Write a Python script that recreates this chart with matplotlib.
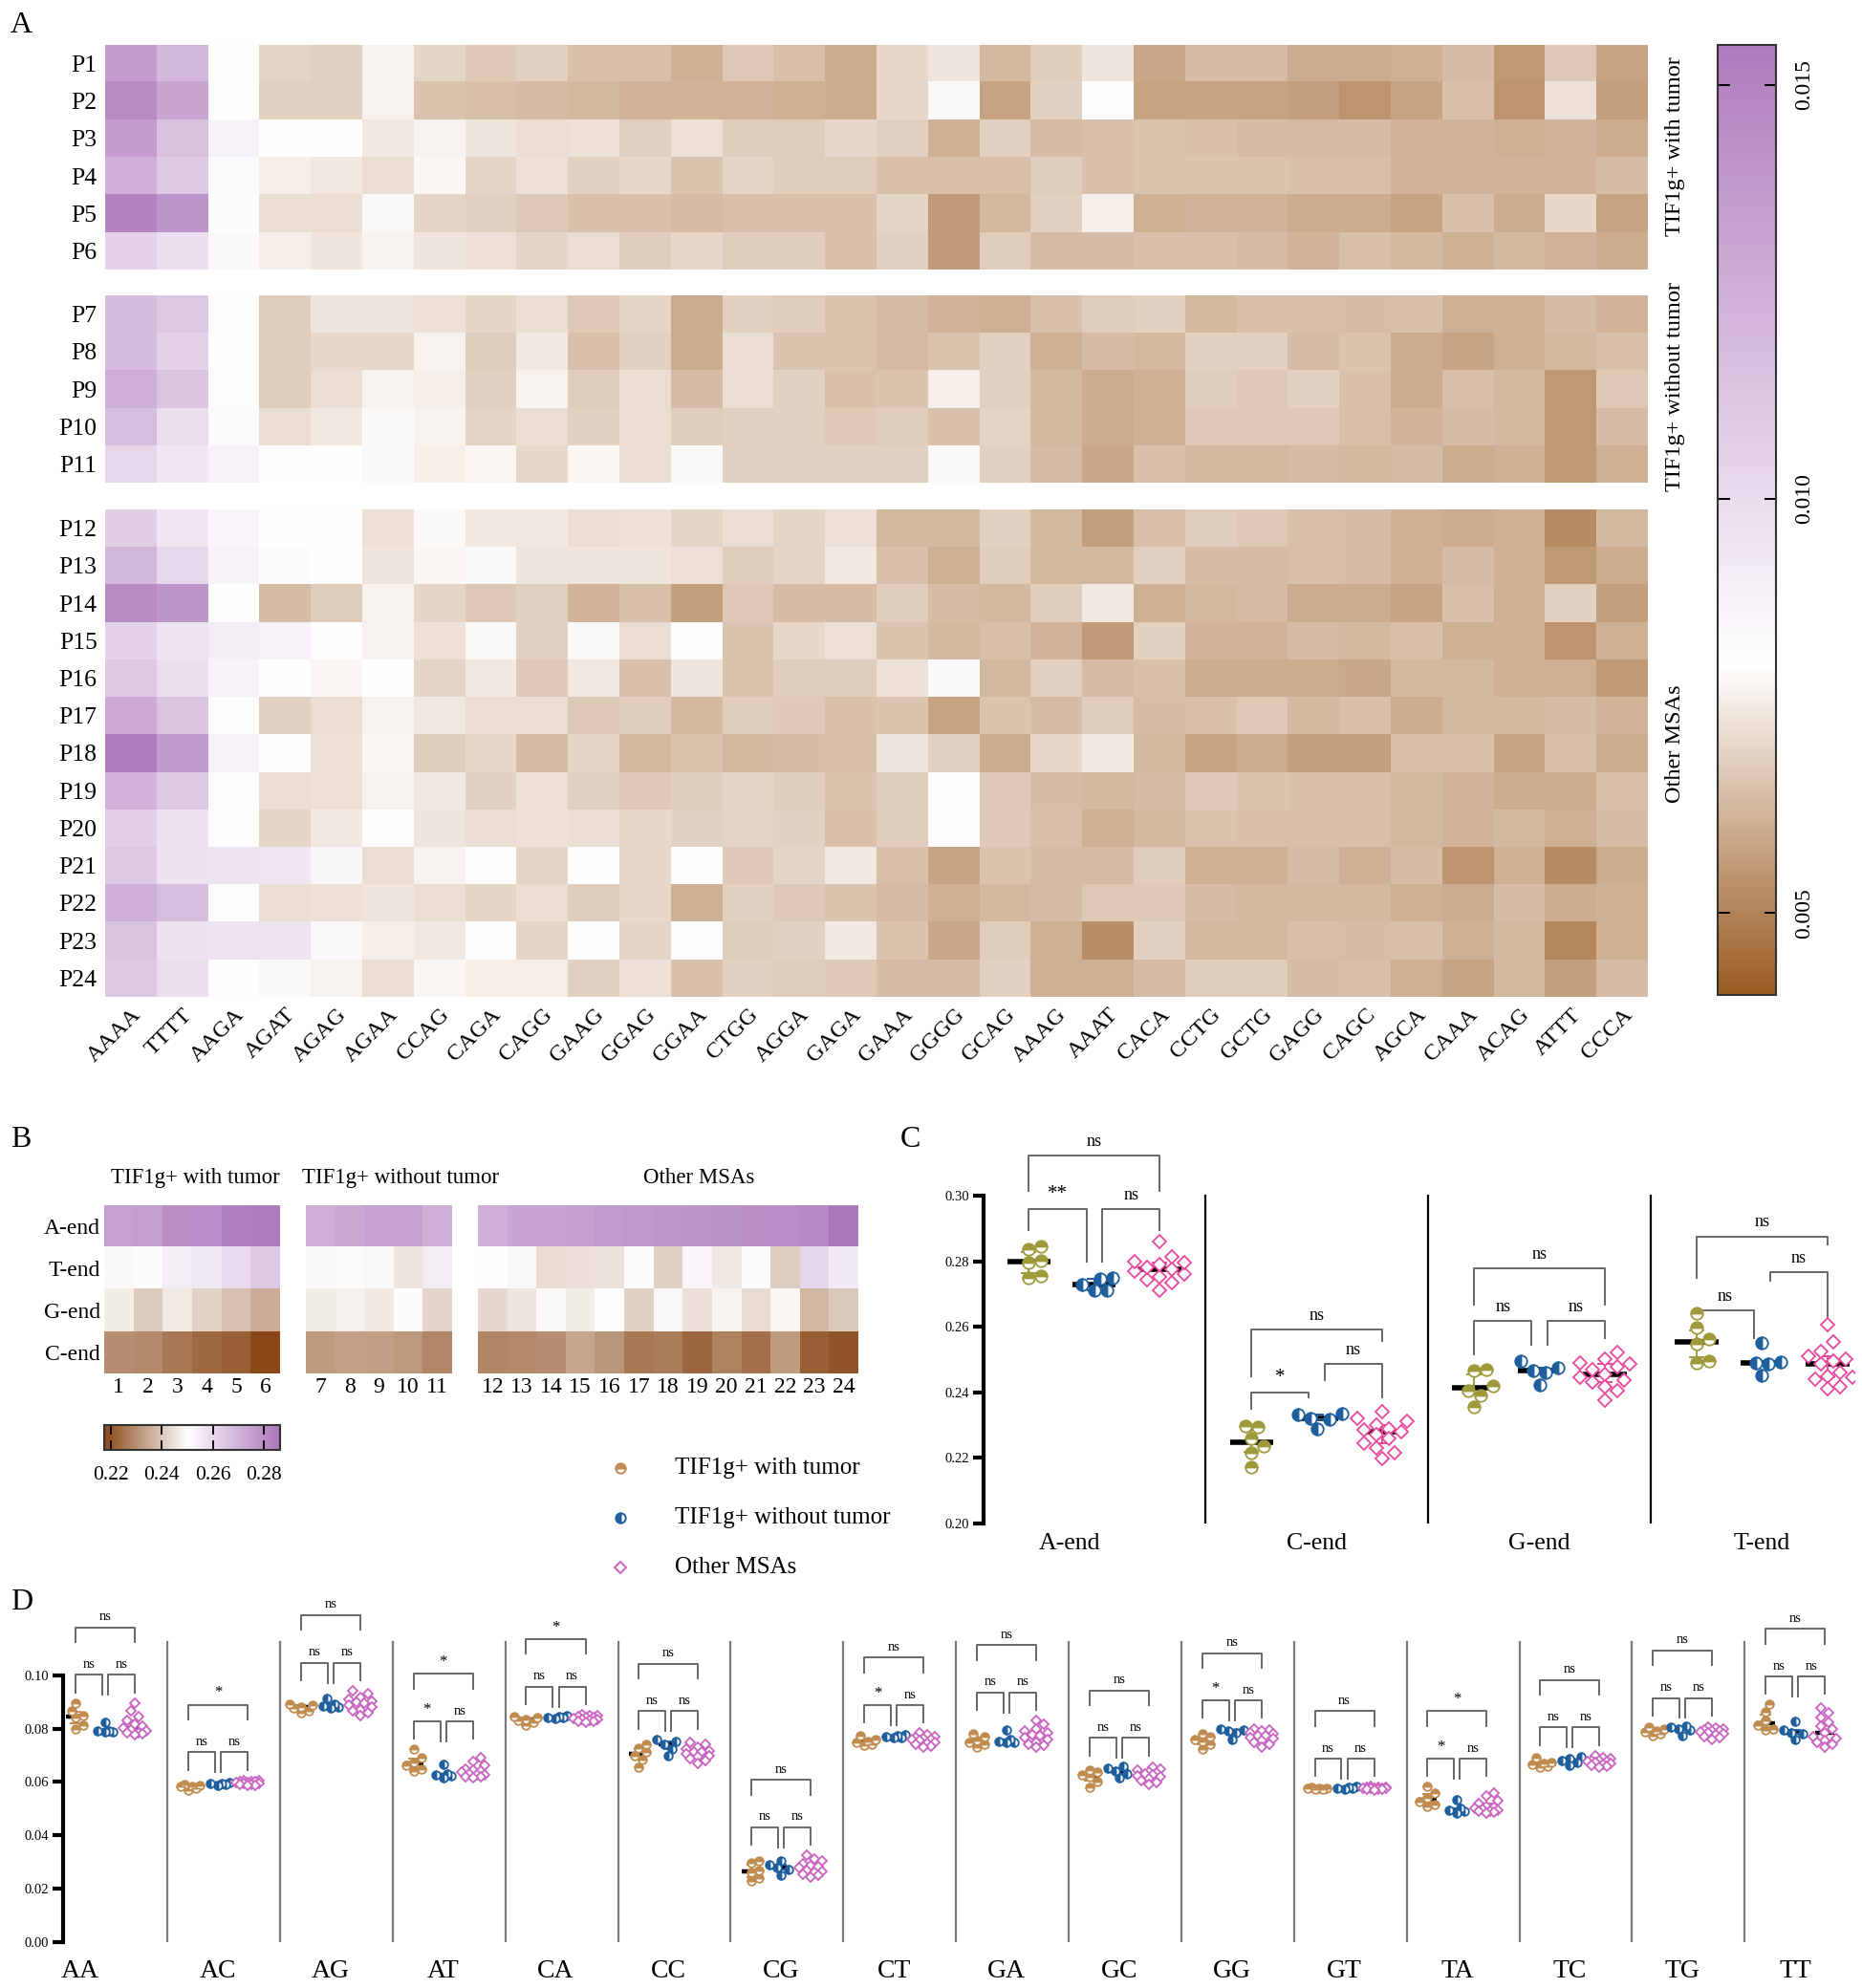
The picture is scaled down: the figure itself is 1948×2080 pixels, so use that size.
import numpy as np
import matplotlib
matplotlib.use("Agg")
import matplotlib.pyplot as plt
from matplotlib.colors import LinearSegmentedColormap, Normalize
from matplotlib.cm import ScalarMappable
from matplotlib.transforms import ScaledTranslation

plt.rcParams['font.family'] = ['Liberation Serif', 'DejaVu Serif']

# ---------------- data ----------------
kmers = ["AAAA", "TTTT", "AAGA", "AGAT", "AGAG", "AGAA", "CCAG", "CAGA", "CAGG", "GAAG",
         "GGAG", "GGAA", "CTGG", "AGGA", "GAGA", "GAAA", "GGGG", "GCAG", "AAAG", "AAAT",
         "CACA", "CCTG", "GCTG", "GAGG", "CAGC", "AGCA", "CAAA", "ACAG", "ATTT", "CCCA"]
samples = ["P%d" % i for i in range(1, 25)]
group_names = ["TIF1g+ with tumor", "TIF1g+ without tumor", "Other MSAs"]
group_sizes = [6, 5, 13]

kmer_freq = np.array([
    [0.0135, 0.0120, 0.0081, 0.0070, 0.0069, 0.0077, 0.0070, 0.0067, 0.0069, 0.0065, 0.0065, 0.0061, 0.0067, 0.0065, 0.0060, 0.0071, 0.0074, 0.0063, 0.0068, 0.0074, 0.0059, 0.0064, 0.0064, 0.0060, 0.0060, 0.0061, 0.0064, 0.0055, 0.0067, 0.0058],
    [0.0145, 0.0130, 0.0080, 0.0069, 0.0069, 0.0077, 0.0066, 0.0065, 0.0064, 0.0063, 0.0062, 0.0062, 0.0062, 0.0061, 0.0060, 0.0071, 0.0079, 0.0058, 0.0069, 0.0080, 0.0058, 0.0058, 0.0058, 0.0057, 0.0054, 0.0058, 0.0065, 0.0054, 0.0073, 0.0057],
    [0.0135, 0.0115, 0.0087, 0.0080, 0.0080, 0.0075, 0.0077, 0.0074, 0.0072, 0.0073, 0.0069, 0.0073, 0.0068, 0.0068, 0.0071, 0.0069, 0.0061, 0.0069, 0.0064, 0.0065, 0.0066, 0.0065, 0.0064, 0.0064, 0.0064, 0.0062, 0.0062, 0.0061, 0.0062, 0.0060],
    [0.0125, 0.0110, 0.0083, 0.0076, 0.0075, 0.0072, 0.0078, 0.0070, 0.0073, 0.0069, 0.0071, 0.0066, 0.0070, 0.0068, 0.0068, 0.0065, 0.0065, 0.0065, 0.0068, 0.0065, 0.0066, 0.0066, 0.0066, 0.0065, 0.0065, 0.0062, 0.0062, 0.0062, 0.0062, 0.0064],
    [0.0150, 0.0140, 0.0082, 0.0072, 0.0072, 0.0079, 0.0070, 0.0069, 0.0067, 0.0065, 0.0065, 0.0064, 0.0065, 0.0065, 0.0065, 0.0070, 0.0056, 0.0063, 0.0069, 0.0076, 0.0061, 0.0062, 0.0062, 0.0060, 0.0060, 0.0058, 0.0065, 0.0060, 0.0071, 0.0058],
    [0.0105, 0.0098, 0.0084, 0.0076, 0.0074, 0.0077, 0.0074, 0.0073, 0.0070, 0.0072, 0.0068, 0.0071, 0.0068, 0.0068, 0.0065, 0.0069, 0.0056, 0.0068, 0.0064, 0.0064, 0.0065, 0.0065, 0.0064, 0.0062, 0.0065, 0.0063, 0.0061, 0.0063, 0.0062, 0.0060],
    [0.0118, 0.0110, 0.0081, 0.0068, 0.0074, 0.0074, 0.0073, 0.0070, 0.0072, 0.0067, 0.0070, 0.0060, 0.0069, 0.0068, 0.0066, 0.0064, 0.0062, 0.0061, 0.0065, 0.0068, 0.0069, 0.0063, 0.0065, 0.0065, 0.0064, 0.0065, 0.0061, 0.0061, 0.0064, 0.0062],
    [0.0118, 0.0105, 0.0081, 0.0068, 0.0071, 0.0071, 0.0077, 0.0068, 0.0075, 0.0065, 0.0069, 0.0060, 0.0072, 0.0066, 0.0066, 0.0064, 0.0066, 0.0069, 0.0061, 0.0064, 0.0063, 0.0069, 0.0069, 0.0064, 0.0066, 0.0060, 0.0058, 0.0061, 0.0063, 0.0065],
    [0.0125, 0.0113, 0.0081, 0.0068, 0.0072, 0.0077, 0.0076, 0.0069, 0.0077, 0.0068, 0.0072, 0.0064, 0.0072, 0.0069, 0.0065, 0.0066, 0.0076, 0.0069, 0.0063, 0.0060, 0.0061, 0.0068, 0.0067, 0.0069, 0.0065, 0.0060, 0.0065, 0.0063, 0.0055, 0.0067],
    [0.0117, 0.0098, 0.0083, 0.0072, 0.0075, 0.0079, 0.0077, 0.0070, 0.0072, 0.0069, 0.0072, 0.0068, 0.0069, 0.0069, 0.0067, 0.0068, 0.0065, 0.0070, 0.0063, 0.0060, 0.0061, 0.0067, 0.0067, 0.0067, 0.0065, 0.0062, 0.0064, 0.0063, 0.0055, 0.0064],
    [0.0102, 0.0093, 0.0088, 0.0080, 0.0080, 0.0079, 0.0076, 0.0078, 0.0071, 0.0078, 0.0072, 0.0079, 0.0069, 0.0069, 0.0069, 0.0069, 0.0079, 0.0069, 0.0064, 0.0059, 0.0065, 0.0063, 0.0063, 0.0064, 0.0063, 0.0064, 0.0060, 0.0061, 0.0055, 0.0061],
    [0.0108, 0.0093, 0.0086, 0.0080, 0.0080, 0.0073, 0.0079, 0.0075, 0.0075, 0.0072, 0.0073, 0.0070, 0.0072, 0.0070, 0.0073, 0.0063, 0.0063, 0.0069, 0.0063, 0.0057, 0.0065, 0.0068, 0.0067, 0.0065, 0.0064, 0.0061, 0.0060, 0.0061, 0.0052, 0.0063],
    [0.0120, 0.0102, 0.0087, 0.0082, 0.0080, 0.0074, 0.0078, 0.0079, 0.0074, 0.0074, 0.0074, 0.0073, 0.0068, 0.0070, 0.0075, 0.0065, 0.0061, 0.0068, 0.0063, 0.0063, 0.0069, 0.0064, 0.0064, 0.0065, 0.0064, 0.0061, 0.0064, 0.0061, 0.0055, 0.0060],
    [0.0145, 0.0140, 0.0080, 0.0064, 0.0068, 0.0077, 0.0070, 0.0067, 0.0069, 0.0062, 0.0065, 0.0057, 0.0067, 0.0064, 0.0064, 0.0068, 0.0064, 0.0063, 0.0068, 0.0075, 0.0061, 0.0063, 0.0064, 0.0060, 0.0060, 0.0058, 0.0065, 0.0061, 0.0069, 0.0057],
    [0.0105, 0.0095, 0.0090, 0.0087, 0.0081, 0.0077, 0.0073, 0.0079, 0.0069, 0.0079, 0.0072, 0.0080, 0.0066, 0.0071, 0.0073, 0.0066, 0.0063, 0.0065, 0.0062, 0.0056, 0.0069, 0.0062, 0.0062, 0.0064, 0.0063, 0.0065, 0.0061, 0.0061, 0.0054, 0.0061],
    [0.0110, 0.0098, 0.0087, 0.0081, 0.0078, 0.0080, 0.0070, 0.0075, 0.0067, 0.0075, 0.0065, 0.0074, 0.0066, 0.0068, 0.0068, 0.0073, 0.0084, 0.0063, 0.0069, 0.0064, 0.0065, 0.0060, 0.0060, 0.0060, 0.0059, 0.0063, 0.0063, 0.0061, 0.0061, 0.0055],
    [0.0128, 0.0113, 0.0081, 0.0069, 0.0072, 0.0077, 0.0075, 0.0072, 0.0072, 0.0067, 0.0068, 0.0063, 0.0068, 0.0067, 0.0065, 0.0066, 0.0058, 0.0066, 0.0064, 0.0068, 0.0064, 0.0065, 0.0067, 0.0063, 0.0065, 0.0060, 0.0063, 0.0063, 0.0064, 0.0062],
    [0.0155, 0.0137, 0.0087, 0.0080, 0.0073, 0.0078, 0.0068, 0.0071, 0.0064, 0.0070, 0.0063, 0.0066, 0.0063, 0.0064, 0.0065, 0.0074, 0.0069, 0.0060, 0.0071, 0.0075, 0.0063, 0.0058, 0.0060, 0.0057, 0.0057, 0.0065, 0.0065, 0.0058, 0.0065, 0.0060],
    [0.0123, 0.0110, 0.0081, 0.0072, 0.0073, 0.0077, 0.0075, 0.0069, 0.0073, 0.0069, 0.0067, 0.0068, 0.0070, 0.0068, 0.0066, 0.0068, 0.0080, 0.0067, 0.0064, 0.0063, 0.0064, 0.0067, 0.0066, 0.0065, 0.0065, 0.0063, 0.0062, 0.0060, 0.0060, 0.0065],
    [0.0106, 0.0096, 0.0081, 0.0070, 0.0075, 0.0080, 0.0074, 0.0072, 0.0073, 0.0072, 0.0071, 0.0069, 0.0070, 0.0069, 0.0065, 0.0068, 0.0080, 0.0067, 0.0065, 0.0061, 0.0063, 0.0066, 0.0065, 0.0065, 0.0065, 0.0063, 0.0062, 0.0063, 0.0061, 0.0064],
    [0.0110, 0.0096, 0.0095, 0.0094, 0.0085, 0.0072, 0.0077, 0.0081, 0.0070, 0.0081, 0.0071, 0.0081, 0.0067, 0.0070, 0.0075, 0.0065, 0.0058, 0.0066, 0.0064, 0.0064, 0.0068, 0.0061, 0.0061, 0.0064, 0.0061, 0.0064, 0.0054, 0.0061, 0.0052, 0.0060],
    [0.0125, 0.0117, 0.0081, 0.0072, 0.0073, 0.0074, 0.0072, 0.0070, 0.0072, 0.0068, 0.0071, 0.0061, 0.0069, 0.0067, 0.0066, 0.0064, 0.0061, 0.0063, 0.0064, 0.0067, 0.0067, 0.0064, 0.0063, 0.0063, 0.0063, 0.0061, 0.0060, 0.0064, 0.0060, 0.0061],
    [0.0113, 0.0096, 0.0095, 0.0095, 0.0084, 0.0076, 0.0075, 0.0081, 0.0070, 0.0081, 0.0070, 0.0081, 0.0068, 0.0069, 0.0075, 0.0066, 0.0059, 0.0068, 0.0061, 0.0053, 0.0069, 0.0063, 0.0063, 0.0065, 0.0064, 0.0065, 0.0061, 0.0063, 0.0051, 0.0061],
    [0.0110, 0.0098, 0.0080, 0.0079, 0.0077, 0.0072, 0.0078, 0.0076, 0.0076, 0.0069, 0.0073, 0.0065, 0.0069, 0.0068, 0.0067, 0.0064, 0.0064, 0.0069, 0.0061, 0.0061, 0.0064, 0.0068, 0.0068, 0.0064, 0.0065, 0.0061, 0.0058, 0.0063, 0.0057, 0.0064],
])

# terminal base frequency per sample (P1..P24)
a_end = [0.2750, 0.2754, 0.2797, 0.2802, 0.2838, 0.2845, 0.2711, 0.2728, 0.2745, 0.2749, 0.2712, 0.2712,
         0.2735, 0.2742, 0.2752, 0.2762, 0.2770, 0.2776, 0.2782, 0.2790, 0.2795, 0.2800, 0.2812, 0.2861]
t_end = [0.2490, 0.2495, 0.2548, 0.2562, 0.2598, 0.2641, 0.2491, 0.2493, 0.2488, 0.2453, 0.2550, 0.2500,
         0.2487, 0.2440, 0.2445, 0.2450, 0.2510, 0.2418, 0.2525, 0.2460, 0.2495, 0.2410, 0.2606, 0.2555]
g_end = [0.2468, 0.2406, 0.2465, 0.2420, 0.2392, 0.2356, 0.2466, 0.2475, 0.2460, 0.2497, 0.2424, 0.2432,
         0.2456, 0.2490, 0.2468, 0.2500, 0.2418, 0.2521, 0.2445, 0.2478, 0.2438, 0.2486, 0.2376, 0.2405]
c_end = [0.2298, 0.2295, 0.2259, 0.2235, 0.2215, 0.2172, 0.2322, 0.2335, 0.2332, 0.2318, 0.2288, 0.2286,
         0.2290, 0.2300, 0.2342, 0.2312, 0.2258, 0.2270, 0.2230, 0.2280, 0.2245, 0.2322, 0.2215, 0.2197]
end_rows = ["A-end", "T-end", "G-end", "C-end"]
end_cats_C = ["A-end", "C-end", "G-end", "T-end"]

# panel C significance brackets: (group i, group j, height, left leg end, right leg end, label)
brackets_C = [
    [(0, 1, 0.2960, 0.2895, 0.2798, "**"), (1, 2, 0.2960, 0.2798, 0.2895, "ns"), (0, 2, 0.3123, 0.3014, 0.3014, "ns")],
    [(0, 1, 0.2400, 0.2350, 0.2385, "*"), (1, 2, 0.2487, 0.2437, 0.2385, "ns"), (0, 2, 0.2592, 0.2448, 0.2558, "ns")],
    [(0, 1, 0.2617, 0.2516, 0.2546, "ns"), (1, 2, 0.2617, 0.2546, 0.2565, "ns"), (0, 2, 0.2779, 0.2667, 0.2667, "ns")],
    [(0, 1, 0.2649, 0.2645, 0.2565, "ns"), (1, 2, 0.2766, 0.2740, 0.2623, "ns"), (0, 2, 0.2876, 0.2749, 0.2851, "ns")],
]

dinucs = ["AA", "AC", "AG", "AT", "CA", "CC", "CG", "CT", "GA", "GC", "GG", "GT", "TA", "TC", "TG", "TT"]
d_tumor = [
    [0.0896, 0.0866, 0.0850, 0.0840, 0.0812, 0.0800],
    [0.0592, 0.0588, 0.0584, 0.0582, 0.0575, 0.0568],
    [0.0892, 0.0888, 0.0882, 0.0878, 0.0868, 0.0858],
    [0.0722, 0.0690, 0.0674, 0.0664, 0.0650, 0.0640],
    [0.0846, 0.0840, 0.0836, 0.0830, 0.0822, 0.0812],
    [0.0741, 0.0728, 0.0712, 0.0700, 0.0685, 0.0657],
    [0.0305, 0.0296, 0.0270, 0.0260, 0.0240, 0.0229],
    [0.0774, 0.0760, 0.0752, 0.0748, 0.0740, 0.0736],
    [0.0782, 0.0770, 0.0756, 0.0750, 0.0740, 0.0731],
    [0.0643, 0.0638, 0.0628, 0.0620, 0.0600, 0.0580],
    [0.0782, 0.0770, 0.0758, 0.0752, 0.0740, 0.0723],
    [0.0580, 0.0578, 0.0577, 0.0575, 0.0574, 0.0572],
    [0.0582, 0.0560, 0.0540, 0.0528, 0.0515, 0.0508],
    [0.0690, 0.0675, 0.0668, 0.0666, 0.0660, 0.0657],
    [0.0806, 0.0798, 0.0793, 0.0789, 0.0780, 0.0774],
    [0.0890, 0.0862, 0.0830, 0.0812, 0.0800, 0.0795],
]
d_no_tumor = [
    [0.0824, 0.0792, 0.0790, 0.0788, 0.0787],
    [0.0598, 0.0596, 0.0593, 0.0590, 0.0587],
    [0.0912, 0.0890, 0.0886, 0.0880, 0.0876],
    [0.0667, 0.0632, 0.0627, 0.0622, 0.0616],
    [0.0848, 0.0845, 0.0842, 0.0840, 0.0838],
    [0.0760, 0.0752, 0.0743, 0.0725, 0.0700],
    [0.0305, 0.0290, 0.0280, 0.0272, 0.0252],
    [0.0778, 0.0774, 0.0771, 0.0768, 0.0765],
    [0.0794, 0.0758, 0.0753, 0.0750, 0.0747],
    [0.0660, 0.0652, 0.0640, 0.0630, 0.0615],
    [0.0800, 0.0796, 0.0791, 0.0786, 0.0760],
    [0.0582, 0.0580, 0.0578, 0.0576, 0.0574],
    [0.0535, 0.0500, 0.0496, 0.0490, 0.0484],
    [0.0695, 0.0688, 0.0681, 0.0672, 0.0664],
    [0.0810, 0.0804, 0.0800, 0.0795, 0.0775],
    [0.0827, 0.0795, 0.0786, 0.0780, 0.0760],
]
d_other = [
    [0.0894, 0.0868, 0.0845, 0.0830, 0.0818, 0.0810, 0.0803, 0.0795, 0.0790, 0.0786, 0.0783, 0.0780, 0.0778],
    [0.0606, 0.0604, 0.0603, 0.0601, 0.0600, 0.0599, 0.0598, 0.0596, 0.0594, 0.0592, 0.0590, 0.0588, 0.0586],
    [0.0942, 0.0930, 0.0918, 0.0910, 0.0904, 0.0898, 0.0896, 0.0888, 0.0880, 0.0872, 0.0865, 0.0858, 0.0850],
    [0.0692, 0.0678, 0.0662, 0.0650, 0.0644, 0.0640, 0.0638, 0.0632, 0.0628, 0.0625, 0.0621, 0.0618, 0.0615],
    [0.0852, 0.0850, 0.0847, 0.0844, 0.0842, 0.0840, 0.0839, 0.0835, 0.0833, 0.0831, 0.0829, 0.0827, 0.0824],
    [0.0748, 0.0740, 0.0732, 0.0725, 0.0718, 0.0714, 0.0712, 0.0705, 0.0700, 0.0694, 0.0686, 0.0679, 0.0671],
    [0.0325, 0.0312, 0.0303, 0.0295, 0.0288, 0.0282, 0.0279, 0.0270, 0.0265, 0.0260, 0.0255, 0.0250, 0.0245],
    [0.0783, 0.0777, 0.0771, 0.0766, 0.0763, 0.0761, 0.0760, 0.0755, 0.0750, 0.0745, 0.0740, 0.0734, 0.0729],
    [0.0830, 0.0815, 0.0800, 0.0790, 0.0783, 0.0778, 0.0775, 0.0765, 0.0758, 0.0750, 0.0743, 0.0736, 0.0729],
    [0.0657, 0.0650, 0.0644, 0.0638, 0.0633, 0.0630, 0.0628, 0.0622, 0.0618, 0.0612, 0.0605, 0.0598, 0.0591],
    [0.0800, 0.0795, 0.0790, 0.0784, 0.0779, 0.0775, 0.0772, 0.0766, 0.0762, 0.0755, 0.0748, 0.0740, 0.0730],
    [0.0582, 0.0581, 0.0580, 0.0579, 0.0578, 0.0578, 0.0577, 0.0576, 0.0575, 0.0574, 0.0573, 0.0572, 0.0571],
    [0.0560, 0.0548, 0.0530, 0.0518, 0.0510, 0.0506, 0.0503, 0.0498, 0.0495, 0.0492, 0.0489, 0.0486, 0.0484],
    [0.0699, 0.0692, 0.0686, 0.0682, 0.0679, 0.0677, 0.0676, 0.0672, 0.0669, 0.0666, 0.0663, 0.0660, 0.0657],
    [0.0806, 0.0802, 0.0798, 0.0795, 0.0792, 0.0790, 0.0789, 0.0784, 0.0780, 0.0776, 0.0771, 0.0765, 0.0759],
    [0.0878, 0.0860, 0.0842, 0.0825, 0.0810, 0.0798, 0.0785, 0.0770, 0.0762, 0.0755, 0.0747, 0.0740, 0.0731],
]
# labels: (tumor vs no tumor, no tumor vs other, tumor vs other)
sig_D = [("ns", "ns", "ns"), ("ns", "ns", "*"), ("ns", "ns", "ns"), ("*", "ns", "*"),
         ("ns", "ns", "*"), ("ns", "ns", "ns"), ("ns", "ns", "ns"), ("*", "ns", "ns"),
         ("ns", "ns", "ns"), ("ns", "ns", "ns"), ("*", "ns", "ns"), ("ns", "ns", "ns"),
         ("*", "ns", "*"), ("ns", "ns", "ns"), ("ns", "ns", "ns"), ("ns", "ns", "ns")]

# ---------------- styles ----------------
BROWN = "#C08B4E"
BLUE = "#1F5F9E"
MAGENTA = "#C964C0"
OLIVE = "#9E9A3C"
PINK = "#E8499C"
BRK = "#666666"

W, H = 1949, 2080
fig = plt.figure(figsize=(W / 100, H / 100), dpi=100)


def rect(x0, y0, x1, y1):
    return [x0 / W, 1 - y1 / H, (x1 - x0) / W, (y1 - y0) / H]


def swarm(vals, ypx, d, max_off):
    v = np.asarray(vals) * ypx
    order = np.argsort(v)
    cands = [0.0]
    k = 1
    while k * d / 2 <= max_off:
        cands += [k * d / 2, -k * d / 2]
        k += 1
    placed = []
    out = np.zeros(len(v))
    for i in order:
        best, bestd = 0.0, -1.0
        for c in cands:
            if not placed:
                best = c
                break
            md = min(np.hypot(c - px, v[i] - py) for px, py in placed)
            if md >= d:
                best = c
                break
            if md > bestd:
                best, bestd = c, md
        placed.append((best, v[i]))
        out[i] = best
    return out


def dot_group(ax, x0, vals, color, marker, fstyle, ms, xpx, ypx, d, max_off, med_w, med_lw, cap_w):
    vals = np.asarray(vals)
    xs = x0 + swarm(vals, ypx, d, max_off) / xpx
    med = np.median(vals)
    q1, q3 = np.percentile(vals, [25, 75])
    ax.plot([x0 - med_w / 2, x0 + med_w / 2], [med, med], color="black", lw=med_lw,
            solid_capstyle="butt", zorder=2)
    ax.plot([x0, x0], [q1, q3], color=color, lw=1.4, zorder=2)
    for q in (q1, q3):
        ax.plot([x0 - cap_w / 2, x0 + cap_w / 2], [q, q], color=color, lw=1.4, zorder=2)
    mfc = "white" if fstyle == "full" else color
    ax.plot(xs, vals, ls="none", marker=marker, ms=ms, mec=color, mfc=mfc, fillstyle=fstyle,
            markerfacecoloralt="white", mew=1.3, zorder=3)


def bracket(ax, x1, x2, y, yl, yr, label, fs, gap):
    ax.plot([x1, x1, x2, x2], [yl, y, y, yr], color=BRK, lw=1.4, clip_on=False, zorder=1)
    ax.text((x1 + x2) / 2, y + gap, label, ha="center", va="bottom", fontsize=fs, clip_on=False)


# ---------------- panel A ----------------
cmapA = LinearSegmentedColormap.from_list(
    "brpu", [(0.0, "#9A5B22"), ((0.0080 - 0.00401) / (0.01548 - 0.00401), "#FFFFFF"), (1.0, "#AF7BBD")])
normA = Normalize(0.00401, 0.01548)

blocksA = [(0, 6, 47, 282, 153), (6, 11, 309, 505, 405), (11, 24, 533, 1043, 778)]
for gi, (r0, r1, y0, y1, ylab) in enumerate(blocksA):
    ax = fig.add_axes(rect(110, y0, 1724, y1))
    ax.imshow(kmer_freq[r0:r1], cmap=cmapA, norm=normA, aspect="auto", interpolation="nearest")
    ax.set_yticks(range(r1 - r0))
    ax.set_yticklabels(samples[r0:r1], fontsize=18.5)
    if gi == 2:
        ax.set_xticks(range(len(kmers)))
        ax.set_xticklabels(kmers, rotation=45, ha="right", va="top", rotation_mode="anchor", fontsize=17.5)
    else:
        ax.set_xticks([])
    ax.tick_params(length=0, pad=6)
    for s in ax.spines.values():
        s.set_visible(False)
    fig.text(1753 / W, 1 - ylab / H, group_names[gi], rotation=90,
             ha="center", va="center", fontsize=17.5)

cax = fig.add_axes(rect(1797, 47, 1858, 1041))
cb = fig.colorbar(ScalarMappable(norm=normA, cmap=cmapA), cax=cax)
cb.set_ticks([0.005, 0.010, 0.015])
cb.set_ticklabels(["0.005", "0.010", "0.015"])
cax.yaxis.set_ticks_position("both")
cax.tick_params(direction="in", length=9, width=1.4, labelsize=17, pad=14, labelright=True, labelleft=False)
for t in cax.get_yticklabels():
    t.set_rotation(90)
    t.set_va("center")
cb.outline.set_linewidth(1.5)
cb.outline.set_edgecolor("#333333")

# ---------------- panel B ----------------
cmapB = LinearSegmentedColormap.from_list(
    "brpuB", [(0.0, "#8A4818"), ((0.250 - 0.2174) / (0.2864 - 0.2174), "#FFFFFF"), (1.0, "#AB76BC")])
normB = Normalize(0.2174, 0.2864)
end_matrix = np.array([a_end, t_end, g_end, c_end])
blocksB = [(0, 6, 109, 293, 0.52), (6, 11, 320, 473, 0.65), (11, 24, 500, 898, 0.58)]
for gi, (c0, c1, x0, x1, tx) in enumerate(blocksB):
    ax = fig.add_axes(rect(x0, 1261, x1, 1437))
    ax.imshow(end_matrix[:, c0:c1], cmap=cmapB, norm=normB, aspect="auto", interpolation="nearest")
    ax.set_xticks(range(c1 - c0))
    ax.set_xticklabels([str(i + 1) for i in range(c0, c1)], fontsize=17)
    if gi == 0:
        ax.set_yticks(range(4))
        ax.set_yticklabels(end_rows, fontsize=17)
    else:
        ax.set_yticks([])
    ax.tick_params(length=0, pad=3)
    for s in ax.spines.values():
        s.set_visible(False)
    ax.text(tx, 1.0 + 18 / 176, group_names[gi], transform=ax.transAxes, ha="center",
            va="bottom", fontsize=16.5)

caxB = fig.add_axes(rect(109, 1491, 293, 1517))
cbB = fig.colorbar(ScalarMappable(norm=normB, cmap=cmapB), cax=caxB, orientation="horizontal")
cbB.set_ticks([0.22, 0.24, 0.26, 0.28])
cbB.set_ticklabels(["0.22", "0.24", "0.26", "0.28"])
caxB.xaxis.set_ticks_position("both")
caxB.tick_params(direction="in", length=7, width=1.3, labelsize=15.5, pad=12, labeltop=False, labelbottom=True)
cbB.outline.set_linewidth(1.5)
cbB.outline.set_edgecolor("#333333")

# legend
lax = fig.add_axes(rect(600, 1500, 960, 1680))
lax.set_xlim(600, 960)
lax.set_ylim(1680, 1500)
lax.axis("off")
for yy, col, mk, fs, name in [(1536, BROWN, "o", "top", group_names[0]),
                              (1588, BLUE, "o", "left", group_names[1]),
                              (1640, MAGENTA, "D", "full", group_names[2])]:
    lax.plot([649], [yy], ls="none", marker=mk, ms=7.5 if mk == "o" else 6.5, mec=col,
             mfc="white" if fs == "full" else col, fillstyle=fs, markerfacecoloralt="white", mew=1.4)
    lax.text(706, yy, name, ha="left", va="center", fontsize=18)

# ---------------- panel C ----------------
axC = fig.add_axes(rect(1029, 1175.5, 1940, 1594))
axC.set_xlim(-1.69, 11.61)
axC.set_ylim(0.20, 0.322)
xpxC, ypxC = 68.5, 3430.0
ends_C = [a_end, c_end, g_end, t_end]
slices = [slice(0, 6), slice(6, 11), slice(11, 24)]
styleC = [(OLIVE, "o", "top", 9), (BLUE, "o", "left", 9), (PINK, "D", "full", 7.5)]
stepC = 3.4
for c, vals in enumerate(ends_C):
    cx = stepC * c
    for g in range(3):
        col, mk, fs, ms = styleC[g]
        dot_group(axC, cx + g - 1, np.array(vals)[slices[g]], col, mk, fs, ms,
                  xpxC, ypxC, 13, 30, 0.66, 4, 0.2)
    for (i, j, y, yl, yr, lab) in brackets_C[c]:
        x1 = cx + i - 1 + (0.12 if (i == 1 and j == 2) else 0)
        x2 = cx + j - 1 - (0.12 if (i == 0 and j == 1) else 0)
        bracket(axC, x1, x2, y, yl, yr, lab, 15 if "*" in lab else 13, 0.0018)
for c in range(3):
    axC.plot([stepC * c + stepC / 2] * 2, [0.20, 0.30], color="black", lw=1.6, zorder=1)
axC.set_xticks([stepC * c for c in range(4)])
axC.set_xticklabels(end_cats_C, fontsize=18.5)
axC.tick_params(axis="x", length=0, pad=7)
axC.set_yticks(np.round(np.arange(0.20, 0.301, 0.02), 2))
axC.set_yticklabels(["%.2f" % v for v in np.arange(0.20, 0.301, 0.02)])
axC.tick_params(axis="y", length=8, width=3, labelsize=10.5, pad=3)
for s in ["top", "right", "bottom"]:
    axC.spines[s].set_visible(False)
axC.spines["left"].set_linewidth(3)
axC.spines["left"].set_bounds(0.20, 0.30)
first = axC.get_xticklabels()[0]
first.set_transform(first.get_transform() + ScaledTranslation(-0.26, 0, fig.dpi_scale_trans))

# ---------------- panel D ----------------
axD = fig.add_axes(rect(66, 1669, 1940, 2032))
axD.set_xlim(-1.42, 59.0)
axD.set_ylim(0, 0.13)
xpxD, ypxD = 31.0, 2790.0
stepD = 3.8
styleD = [(BROWN, "o", "top", 6.2), (BLUE, "o", "left", 6.2), (MAGENTA, "D", "full", 5.2)]
for c in range(len(dinucs)):
    cx = stepD * c
    groups = [d_tumor[c], d_no_tumor[c], d_other[c]]
    for g in range(3):
        col, mk, fs, ms = styleD[g]
        dot_group(axD, cx + g - 1, groups[g], col, mk, fs, ms, xpxD, ypxD, 8, 14, 0.65, 3.2, 0.3)
    top = max(max(v) for v in groups)
    hs = top + 0.0105
    hb = hs + 0.0178
    s01, s12, s02 = sig_D[c]
    bracket(axD, cx - 1, cx - 0.1, hs, hs - 0.0065, hs - 0.0075, s01, 12 if s01 == "*" else 10.5, 0.0016)
    bracket(axD, cx + 0.1, cx + 1, hs, hs - 0.0075, hs - 0.0065, s12, 12 if s12 == "*" else 10.5, 0.0016)
    bracket(axD, cx - 1, cx + 1, hb, hb - 0.0055, hb - 0.0055, s02, 12 if s02 == "*" else 10.5, 0.0016)
for c in range(len(dinucs) - 1):
    axD.plot([stepD * c + stepD / 2 + 0.2] * 2, [0.0, 0.1125], color="#7a7a7a", lw=1.6, zorder=1)
axD.set_xticks([stepD * c for c in range(len(dinucs))])
axD.set_xticklabels(dinucs, fontsize=20)
axD.tick_params(axis="x", length=0, pad=13)
axD.set_yticks(np.round(np.arange(0, 0.101, 0.02), 2))
axD.set_yticklabels(["%.2f" % v for v in np.arange(0, 0.101, 0.02)])
axD.tick_params(axis="y", length=8, width=3, labelsize=10.5, pad=3)
for s in ["top", "right", "bottom"]:
    axD.spines[s].set_visible(False)
axD.spines["left"].set_linewidth(3)
axD.spines["left"].set_bounds(0, 0.10)
firstD = axD.get_xticklabels()[0]
firstD.set_transform(firstD.get_transform() + ScaledTranslation(-0.26, 0, fig.dpi_scale_trans))

# panel letters
for lab, x, y in [("A", 11, 27), ("B", 11, 1192), ("C", 942, 1192), ("D", 11, 1676)]:
    fig.text(x / W, 1 - y / H, lab, fontsize=23, ha="left", va="center")

fig.savefig("out.png", dpi=100)
